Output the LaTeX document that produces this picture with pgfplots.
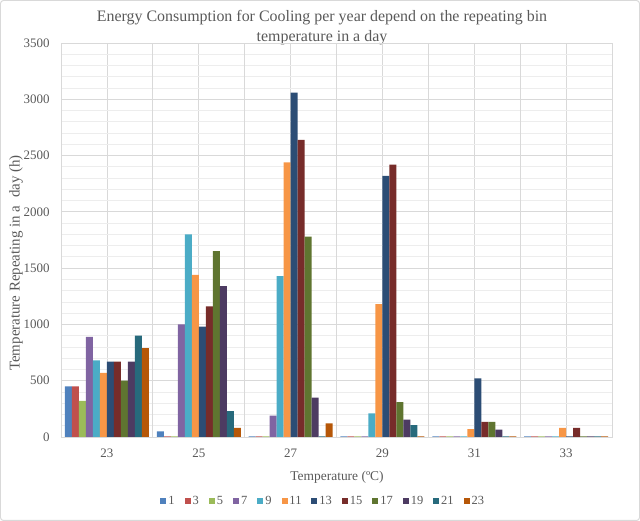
\documentclass[border=0pt]{standalone}
\usepackage{fontspec}
\setmainfont{Liberation Serif}
\usepackage{pgfplots}
\usepackage{pgfplotstable}
\pgfplotsset{compat=1.18}
\definecolor{txt}{HTML}{595959}
\definecolor{grd}{HTML}{D9D9D9}
\definecolor{grdm}{HTML}{EDEDED}
\definecolor{c1}{HTML}{4F81BD}
\definecolor{c3}{HTML}{C0504D}
\definecolor{c5}{HTML}{9BBB59}
\definecolor{c7}{HTML}{8064A2}
\definecolor{c9}{HTML}{4BACC6}
\definecolor{c11}{HTML}{F79646}
\definecolor{c13}{HTML}{2C4D75}
\definecolor{c15}{HTML}{772C2A}
\definecolor{c17}{HTML}{5F7530}
\definecolor{c19}{HTML}{4D3B62}
\definecolor{c21}{HTML}{276A7C}
\definecolor{c23}{HTML}{B65708}

\pgfplotstableread{
x s1 s3 s5 s7 s9 s11 s13 s15 s17 s19 s21 s23
0 450 450 320 890 680 570 670 670 500 670 900 790
1 50 5 5 1000 1800 1440 980 1160 1650 1340 230 80
2 5 5 5 190 1430 2440 3060 2640 1780 350 5 120
3 5 5 5 5 210 1180 2320 2420 310 155 105 5
4 5 5 5 5 5 70 520 135 135 65 5 5
5 5 5 5 5 5 80 5 80 5 5 5 5
}\datatable

\begin{document}
\begin{tikzpicture}[x=1bp,y=1bp]
\draw[grd, line width=1bp, rounded corners=3bp] (0.5,0.5) rectangle (639.5,520.5);
\node[text=txt, font=\fontsize{16}{20}\selectfont, align=center] at (322,493)
  {Energy Consumption for Cooling per year depend on the repeating bin\\temperature in a day};
\node[text=txt, font=\fontsize{15}{17}\selectfont, rotate=90] at (16,258)
  {Temperature Repeating in a\ \ day (h)};
\node[text=txt, font=\fontsize{13.5}{15}\selectfont] at (337,44) {Temperature (ºC)};
\begin{axis}[
  at={(61bp,84bp)}, anchor=south west, scale only axis,
  width=551bp, height=394bp,
  xmin=-0.5, xmax=5.5, ymin=0, ymax=3500,
  ybar=0pt, bar width=7bp,
  xtick={0,...,5}, xticklabels={23,25,27,29,31,33},
  extra x ticks={0.5,1.5,2.5,3.5,4.5},
  extra x tick labels={},
  extra x tick style={grid=major},
  ytick={0,500,...,3500},
  minor y tick num=4,
  grid=both,
  major grid style={grd, line width=0.8bp},
  minor grid style={grdm, line width=0.8bp},
  axis line style={grd, line width=0.8bp},
  major tick length=0pt, minor tick length=0pt,
  /pgf/number format/assume math mode=true,
  /pgf/number format/set thousands separator={},
  ticklabel style={text=txt, font=\fontsize{13}{15}\selectfont},
  xticklabel style={anchor=center, yshift=-16bp},
  yticklabel style={anchor=east, xshift=-8bp},
  legend columns=12,
  legend style={draw=none, fill=none, at={(axis description cs:0.476,-0.1624)}, anchor=center,
    font=\fontsize{12.5}{14}\selectfont, text=txt,
    /tikz/every even column/.append style={column sep=8bp},
    inner sep=0pt},
  legend image code/.code={\fill[#1] (0bp,-3bp) rectangle (6bp,3bp);},
  every axis plot/.append style={draw=none},
]
\addplot[fill=c1] table[x=x,y=s1]{\datatable};
\addplot[fill=c3] table[x=x,y=s3]{\datatable};
\addplot[fill=c5] table[x=x,y=s5]{\datatable};
\addplot[fill=c7] table[x=x,y=s7]{\datatable};
\addplot[fill=c9] table[x=x,y=s9]{\datatable};
\addplot[fill=c11] table[x=x,y=s11]{\datatable};
\addplot[fill=c13] table[x=x,y=s13]{\datatable};
\addplot[fill=c15] table[x=x,y=s15]{\datatable};
\addplot[fill=c17] table[x=x,y=s17]{\datatable};
\addplot[fill=c19] table[x=x,y=s19]{\datatable};
\addplot[fill=c21] table[x=x,y=s21]{\datatable};
\addplot[fill=c23] table[x=x,y=s23]{\datatable};
\legend{1,3,5,7,9,11,13,15,17,19,21,23}
\end{axis}
\end{tikzpicture}
\end{document}
